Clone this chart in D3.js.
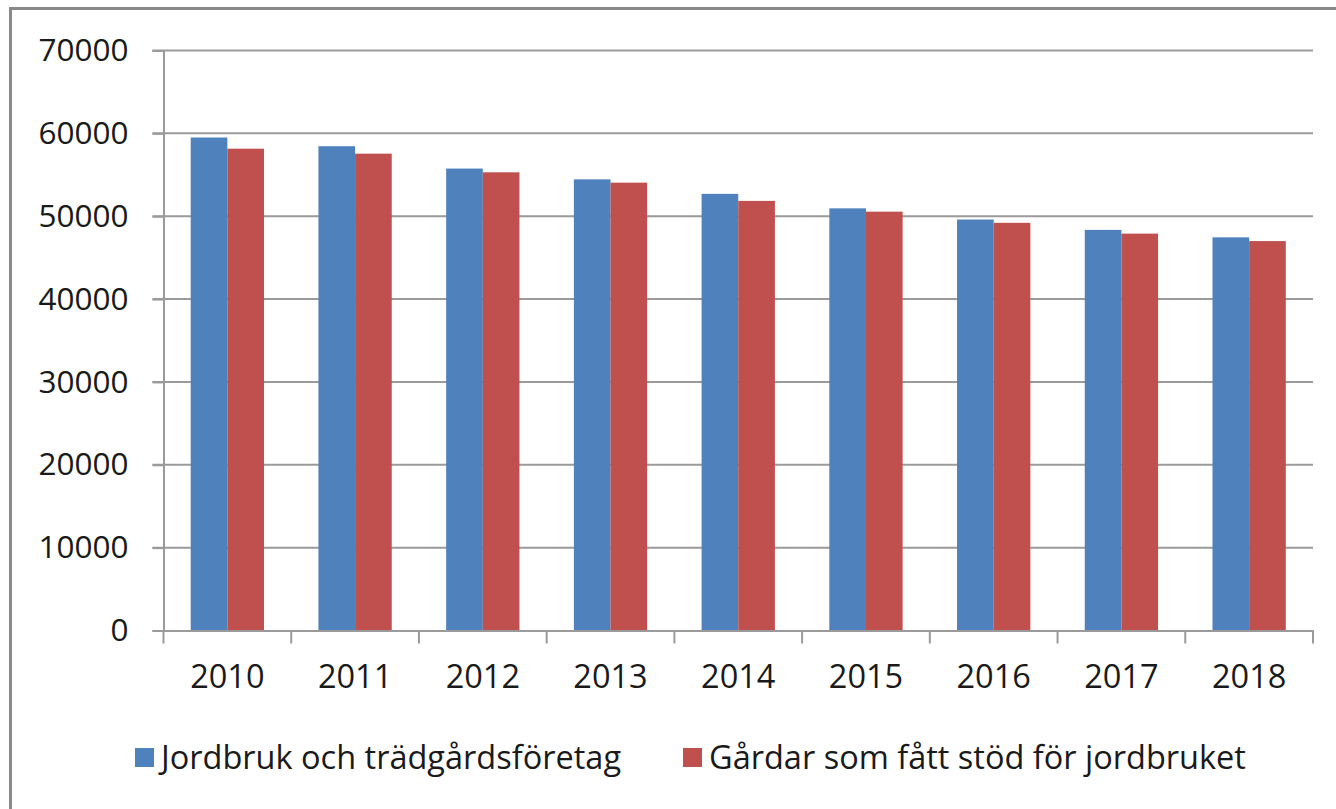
<!DOCTYPE html>
<html>
<head>
<meta charset="utf-8">
<script src="https://cdn.jsdelivr.net/npm/d3@7"></script>
<style>
  html, body { margin: 0; padding: 0; background: #fff; }
  svg { display: block; }
  text { font-family: "Open Sans", "Noto Sans", sans-serif; fill: #1a1a1a; }
</style>
</head>
<body>
<svg></svg>
<script>
const width = 1336;
const height = 809;

// Données
const years = ["2010", "2011", "2012", "2013", "2014", "2015", "2016", "2017", "2018"];
const foretag = [59500, 58450, 55750, 54450, 52700, 50950, 49600, 48350, 47450];
const gardar = [58150, 57550, 55300, 54050, 51850, 50550, 49200, 47900, 47000];
const seriesNames = ["Jordbruk och trädgårdsföretag", "Gårdar som fått stöd för jordbruket"];
const colors = ["#4F81BD", "#C0504D"];
const yTicks = [0, 10000, 20000, 30000, 40000, 50000, 60000, 70000];

const svg = d3.select("svg")
  .attr("width", width)
  .attr("height", height);

// cadre extérieur (bords droit/bas coupés)
svg.append("rect")
  .attr("x", 10.5).attr("y", 8.5)
  .attr("width", width + 20).attr("height", height + 20)
  .attr("fill", "none")
  .attr("stroke", "#898989")
  .attr("stroke-width", 3);

const plot = { left: 163.5, right: 1313, top: 50.5, bottom: 630.5 };

const x = d3.scaleBand()
  .domain(years)
  .range([plot.left, plot.right]);

const y = d3.scaleLinear()
  .domain([0, 70000])
  .range([plot.bottom, plot.top]);

const barW = x.bandwidth() * 0.287;

// Grille
svg.append("g")
  .selectAll("line")
  .data(yTicks.filter(d => d > 0))
  .join("line")
  .attr("x1", plot.left - 11)
  .attr("x2", plot.right)
  .attr("y1", d => y(d))
  .attr("y2", d => y(d))
  .attr("stroke", "#9a9a9a")
  .attr("stroke-width", 2);

// Barres
const data = years.map((yr, i) => ({ year: yr, values: [foretag[i], gardar[i]] }));

const groups = svg.append("g")
  .selectAll("g")
  .data(data)
  .join("g")
  .attr("transform", d => `translate(${x(d.year) + x.bandwidth() / 2 - barW},0)`);

groups.selectAll("rect")
  .data(d => d.values)
  .join("rect")
  .attr("x", (d, i) => i * barW)
  .attr("y", d => y(d))
  .attr("width", barW)
  .attr("height", d => y(0) - y(d))
  .attr("fill", (d, i) => colors[i]);

// Axe Y
const yAxis = svg.append("g")
  .attr("transform", `translate(${plot.left},0)`)
  .call(d3.axisLeft(y).tickValues(yTicks).tickSize(11).tickPadding(24).tickFormat(d3.format("d")));
yAxis.select(".domain").attr("stroke", "#9a9a9a").attr("stroke-width", 2);
yAxis.selectAll(".tick line").attr("stroke", "#9a9a9a").attr("stroke-width", 2);
yAxis.selectAll("text").style("font-size", "31.5px").attr("fill", "#1a1a1a");

// Axe X
const xAxis = svg.append("g")
  .attr("transform", `translate(0,${plot.bottom})`)
  .call(d3.axisBottom(x).tickSize(0).tickPadding(34));
xAxis.select(".domain").attr("stroke", "#9a9a9a").attr("stroke-width", 2);
xAxis.selectAll("text").style("font-size", "32.5px").attr("fill", "#1a1a1a");

// graduations entre catégories
svg.append("g")
  .selectAll("line")
  .data(years.concat(["end"]))
  .join("line")
  .attr("x1", (d, i) => i < years.length ? x(d) : plot.right)
  .attr("x2", (d, i) => i < years.length ? x(d) : plot.right)
  .attr("y1", plot.bottom)
  .attr("y2", plot.bottom + 13)
  .attr("stroke", "#9a9a9a")
  .attr("stroke-width", 2);

// Légende
const legendX = [135, 683];
const legend = svg.append("g")
  .selectAll("g")
  .data(seriesNames)
  .join("g")
  .attr("transform", (d, i) => `translate(${legendX[i]},748)`);

legend.append("rect")
  .attr("width", 19)
  .attr("height", 19)
  .attr("fill", (d, i) => colors[i]);

legend.append("text")
  .attr("x", 26)
  .attr("y", 10)
  .attr("dy", "0.35em")
  .style("font-size", "32.5px")
  .text(d => d);
</script>
</body>
</html>
